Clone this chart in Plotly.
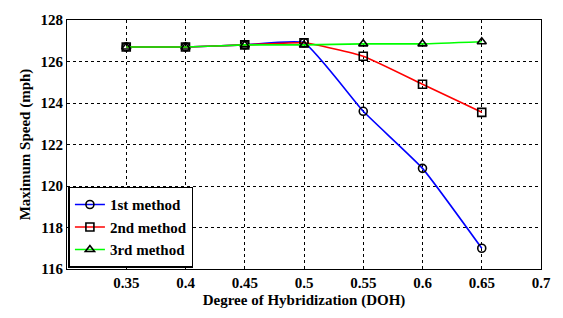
import plotly.graph_objects as go

doh = [0.35, 0.40, 0.45, 0.50, 0.55, 0.60, 0.65]
method1 = [126.7, 126.7, 126.8, 126.9, 123.6, 120.85, 117.0]
method2 = [126.7, 126.7, 126.8, 126.9, 126.25, 124.9, 123.55]
method3 = [126.7, 126.7, 126.8, 126.8, 126.85, 126.85, 126.95]
names = ["1st method", "2nd method", "3rd method"]
colors = ["#0000ff", "#ff0000", "#00ff00"]
symbols = ["circle-open", "square-open", "triangle-up-open"]
xticks = [0.35, 0.4, 0.45, 0.5, 0.55, 0.6, 0.65, 0.7]
yticks = [116, 118, 120, 122, 124, 126, 128]

font = "Liberation Serif, Times New Roman, serif"
fig = go.Figure()
for name, ys, c, s in zip(names, [method1, method2, method3], colors, symbols):
    fig.add_trace(go.Scatter(
        x=doh, y=ys, name=name, mode="lines+markers",
        line=dict(color=c, width=1.6, shape="spline", smoothing=0.4),
        marker=dict(symbol=s, size=8, color="black", line=dict(color="black", width=1.6)),
    ))

axis_common = dict(
    showline=True, linecolor="black", linewidth=1, mirror=True,
    showgrid=True, gridcolor="black", griddash="3px,3px", gridwidth=1,
    zeroline=False, ticks="", tickfont=dict(family=font, size=15, color="black", weight="bold"),
)
fig.update_layout(
    width=563, height=318,
    margin=dict(l=67, r=14, t=13, b=48),
    paper_bgcolor="white", plot_bgcolor="white",
    font=dict(family=font, color="black"),
    xaxis=dict(range=[0.3, 0.7], tickvals=xticks, ticktext=[f"{v:g}" for v in xticks],
               title=dict(text="Degree of Hybridization (DOH)", font=dict(family=font, size=15, weight="bold"), standoff=4),
               **axis_common),
    yaxis=dict(range=[116, 128], tickvals=yticks,
               title=dict(text="Maximum Speed (mph)", font=dict(family=font, size=15, weight="bold"), standoff=6),
               **axis_common),
    legend=dict(x=0.003, y=0.005, xanchor="left", yanchor="bottom",
                bgcolor="white", bordercolor="black", borderwidth=1.5,
                font=dict(family=font, size=15, color="black", weight="bold"),
                tracegroupgap=0, itemwidth=30),
    showlegend=True,
)
fig.write_html("out.html", config={"displayModeBar": False},
               post_script="document.body.style.margin='0';")
